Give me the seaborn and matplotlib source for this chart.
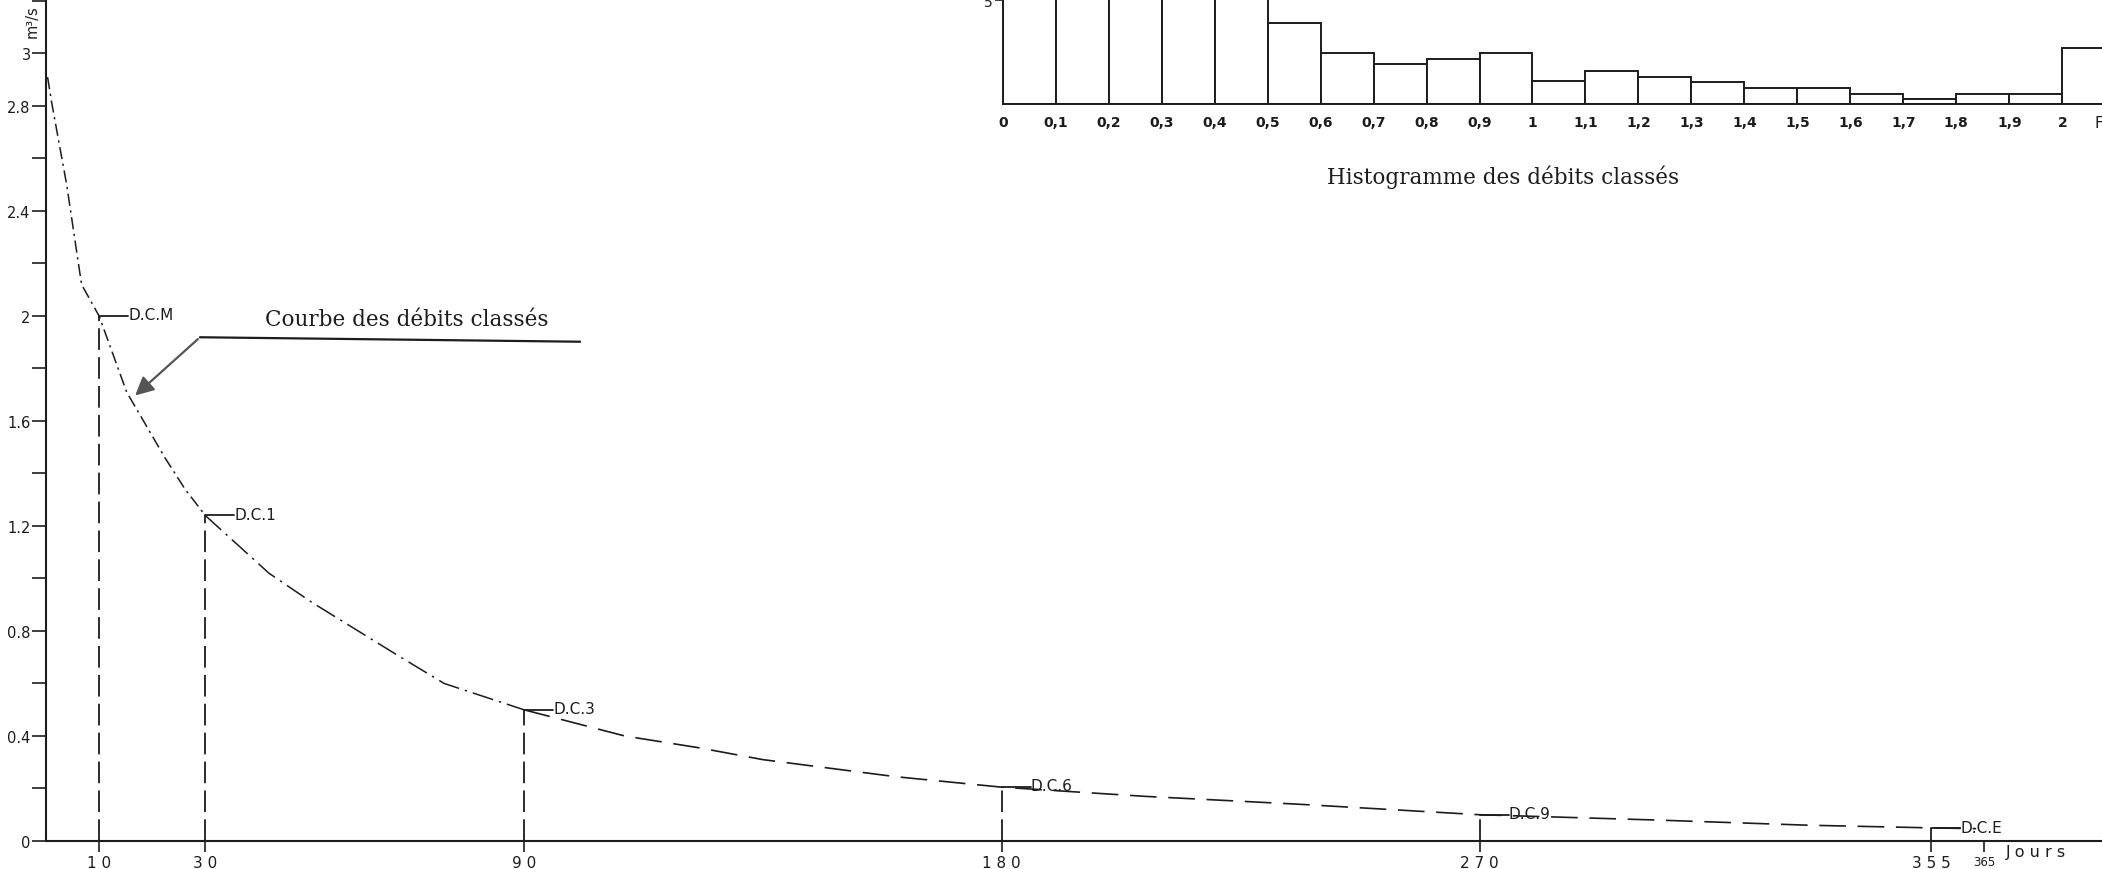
import numpy as np
import matplotlib
matplotlib.use("Agg")
import matplotlib.pyplot as plt
from matplotlib.ticker import MultipleLocator
import seaborn as sns

# --- data ---
# flow duration curve (jours, m3/s)
jours = [0.3, 1.1, 3.9, 6.7, 10, 15.2, 22.4, 26.2, 30, 42, 50, 58, 66, 75, 90,
         109, 123, 135, 160, 180, 207, 236, 270, 303, 332, 355, 363.5]
debit = [2.91, 2.81, 2.50, 2.12, 2.0, 1.71, 1.46, 1.34, 1.24, 1.02, 0.91, 0.81, 0.71, 0.60, 0.50,
         0.40, 0.355, 0.31, 0.245, 0.205, 0.17, 0.14, 0.10, 0.08, 0.06, 0.05, 0.047]

# characteristic flows
dc_jours = [10, 30, 90, 180, 270, 355]
dc_debit = [2.0, 1.24, 0.50, 0.205, 0.10, 0.048]
dc_noms = ["D.C.M", "D.C.1", "D.C.3", "D.C.6", "D.C.9", "D.C.E"]

x_ticks = [10, 30, 90, 180, 270, 355, 365]
x_labels = ["1 0", "3 0", "9 0", "1 8 0", "2 7 0", "3 5 5", "365"]
y_ticks = [0, 0.4, 0.8, 1.2, 1.6, 2.0, 2.4, 2.8, 3.0]
y_labels = ["0", "0.4", "0.8", "1.2", "1.6", "2", "2.4", "2.8", "3"]

# histogram of classified flows (classes of 0.1 m3/s, last class > 2)
classes = [0.0, 0.1, 0.2, 0.3, 0.4, 0.5, 0.6, 0.7, 0.8, 0.9, 1.0,
           1.1, 1.2, 1.3, 1.4, 1.5, 1.6, 1.7, 1.8, 1.9, 2.0]
frequence = [26.0, 24.7, 11.0, 7.7, 6.0, 3.90, 2.47, 1.93, 2.18, 2.47, 1.12,
             1.59, 1.33, 1.06, 0.80, 0.79, 0.51, 0.27, 0.51, 0.51, 2.71]
classes_labels = ["0", "0,1", "0,2", "0,3", "0,4", "0,5", "0,6", "0,7", "0,8", "0,9", "1",
                  "1,1", "1,2", "1,3", "1,4", "1,5", "1,6", "1,7", "1,8", "1,9", "2"]

sns.set_theme(style="white")
plt.rcParams["font.family"] = ["DejaVu Sans"]
ink = "#1c1c1c"

fig = plt.figure(figsize=(21.02, 8.7), dpi=100)
ax = fig.add_axes([0, 0, 1, 1])
ax.set_facecolor("white")

# curve: short dash-dot to day 30, longer dash-dot to day 90, long dashes after
i30 = jours.index(30)
i90 = jours.index(90)
sns.lineplot(x=jours[:i30 + 1], y=debit[:i30 + 1], ax=ax, color=ink, lw=1.1,
             linestyle=(0, (8, 3, 1.5, 3)), legend=False)
sns.lineplot(x=jours[i30:i90 + 1], y=debit[i30:i90 + 1], ax=ax, color=ink, lw=1.1,
             linestyle=(0, (14, 4, 1.5, 4)), legend=False)
sns.lineplot(x=jours[i90:], y=debit[i90:], ax=ax, color=ink, lw=1.2,
             linestyle=(0, (16, 7)), legend=False)

# verticals and labels of characteristic flows
ax.vlines(dc_jours, 0, dc_debit, colors=ink, lw=1.3, linestyles=[(0, (12, 4))])
for d, q, nom in zip(dc_jours, dc_debit, dc_noms):
    ax.plot([d, d + 5.5], [q, q], color=ink, lw=1.3)
    ax.text(d + 5.5, q + 0.005, nom, fontsize=11, color=ink, va="center", ha="left")

# annotation
ax.text(41.2, 1.99, "Courbe des débits classés", family="DejaVu Serif", fontsize=15.5,
        color=ink, va="center", ha="left")
ax.plot([29.0, 100.6], [1.919, 1.902], color=ink, lw=1.6)
ax.annotate("", xy=(16.4, 1.69), xytext=(29.0, 1.919),
            arrowprops=dict(arrowstyle="-|>", color="#555555", lw=1.6, mutation_scale=28))

# axes
ax.set_xlim(-8.66, 387.2)
ax.set_ylim(-0.1067, 3.2076)
for s in ["top", "right"]:
    ax.spines[s].set_visible(False)
ax.spines["left"].set_position(("data", 0))
ax.spines["bottom"].set_position(("data", 0))
ax.spines["left"].set_bounds(0, 3.2076)
ax.spines["bottom"].set_bounds(0, 387.2)
for s in ["left", "bottom"]:
    ax.spines[s].set_color(ink)
    ax.spines[s].set_linewidth(1.5)

ax.set_yticks(y_ticks, labels=y_labels)
ax.yaxis.set_minor_locator(MultipleLocator(0.2))
ax.tick_params(axis="y", which="both", direction="out", length=10, width=1.2,
               color=ink, labelsize=10.5, labelcolor=ink, pad=1, left=True)
ax.set_xticks(x_ticks, labels=x_labels)
ax.tick_params(axis="x", direction="out", length=8, width=1.2, color=ink,
               labelsize=11, labelcolor=ink, pad=2, bottom=True)
ax.get_xticklabels()[-1].set_fontsize(8.5)
ax.text(369.1, -0.04, "J o u r s", fontsize=11.5, color=ink, va="center", ha="left")
ax.text(-2.6, 3.124, "m³/s", fontsize=10.5, color=ink, rotation=90, va="center", ha="center")

# inset histogram
axh = fig.add_axes([1002.7 / 2102, 1 - 105.3 / 870, (2102 - 1002.7) / 2102, 105.3 / 870])
axh.set_facecolor("white")
sns.histplot(x=[c + 0.05 for c in classes], weights=frequence, bins=classes + [2.2],
             ax=axh, color="white", edgecolor=ink, linewidth=1.4, alpha=1)
axh.set_xlim(0, 2.075)
axh.set_ylim(0, 5.072)
axh.set_xlabel("")
axh.set_ylabel("")
for s in ["top", "right"]:
    axh.spines[s].set_visible(False)
for s in ["left", "bottom"]:
    axh.spines[s].set_color(ink)
    axh.spines[s].set_linewidth(1.4)
axh.set_xticks(classes, labels=classes_labels)
axh.tick_params(axis="x", length=0, labelsize=10, labelcolor=ink, pad=8)
for t in axh.get_xticklabels():
    t.set_fontweight("bold")
axh.set_yticks([5], labels=["5"])
axh.tick_params(axis="y", direction="out", length=6, width=1.2, color=ink,
                labelsize=10, labelcolor=ink, pad=1, left=True)

fig.text(1503 / 2102, 1 - 177 / 870, "Histogramme des débits classés",
         family="DejaVu Serif", fontsize=15.5, color=ink, ha="center", va="center")
fig.text(2094 / 2102, 1 - 124 / 870, "F", fontsize=11, color=ink, ha="left", va="center")

fig.savefig("out.png", dpi=100, facecolor="white")
